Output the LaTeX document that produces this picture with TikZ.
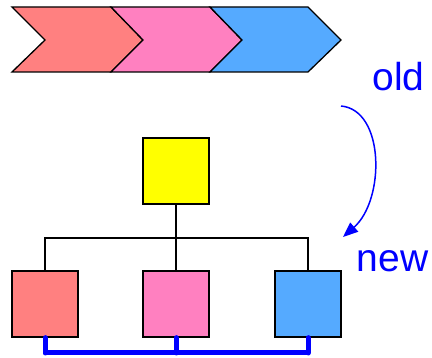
\documentclass[tikz,border=0pt]{standalone}
\usepackage{fontspec}
\setmainfont{Liberation Sans}
\usetikzlibrary{arrows.meta}
\definecolor{csalmon}{HTML}{FF8080}
\definecolor{cpink}{HTML}{FF80C0}
\definecolor{cblue}{HTML}{55AAFF}
\definecolor{cyel}{HTML}{FFFF00}
\definecolor{ctext}{HTML}{0000FF}
\tikzset{
  chev/.style={draw=black, line width=1.3pt, line join=miter},
  box/.style={draw=black, line width=1.3pt, minimum size=66pt, inner sep=0pt},
  tree/.style={draw=black, line width=1.2pt},
  bus/.style={draw=ctext, line width=5pt},
  lbl/.style={text=ctext, font=\fontsize{39}{42}\selectfont, inner sep=0pt, anchor=base},
}
\begin{document}
\begin{tikzpicture}[x=1pt,y=-1pt]
\useasboundingbox (0,0) rectangle (432,358);
% chevrons
\path[chev, fill=csalmon] (12,7) -- (111,7) -- (143,40) -- (111,72) -- (12,72) -- (45,40) -- cycle;
\path[chev, fill=cpink] (111,7) -- (210,7) -- (242,40) -- (210,72) -- (111,72) -- (143,40) -- cycle;
\path[chev, fill=cblue] (210,7) -- (308,7) -- (341,40) -- (308,72) -- (210,72) -- (242,40) -- cycle;
% labels and arrow
\node[lbl] (old) at (398.5,90.5) {old};
\node[lbl] (new) at (392.5,272) {new};
\coordinate (a0) at (341,106);
\coordinate (a1) at (343,237);
\draw[ctext, line width=1.5pt, -{Triangle[length=15pt,width=12pt]}] (a0) .. controls (385,110) and (385,200) .. (a1);
% hierarchy
\node[box, fill=cyel] (top) at (176,171) {};
\node[box, fill=csalmon] (c1) at (45,304) {};
\node[box, fill=cpink] (c2) at (176,304) {};
\node[box, fill=cblue] (c3) at (308,304) {};
\coordinate (j) at (176,238);
\draw[tree] (top.south) -- (c2.north);
\draw[tree] (j) -| (c1.north);
\draw[tree] (j) -| (c3.north);
\coordinate (b1) at (45,353);
\coordinate (b2) at (176,353);
\coordinate (b3) at (308,353);
\draw[bus, line cap=round] (c1.south) -- (b1);
\draw[bus] (b1) -- (b3);
\draw[bus, line cap=round] (c2.south) -- (b2);
\draw[bus, line cap=round] (c3.south) -- (b3);
\end{tikzpicture}
\end{document}
